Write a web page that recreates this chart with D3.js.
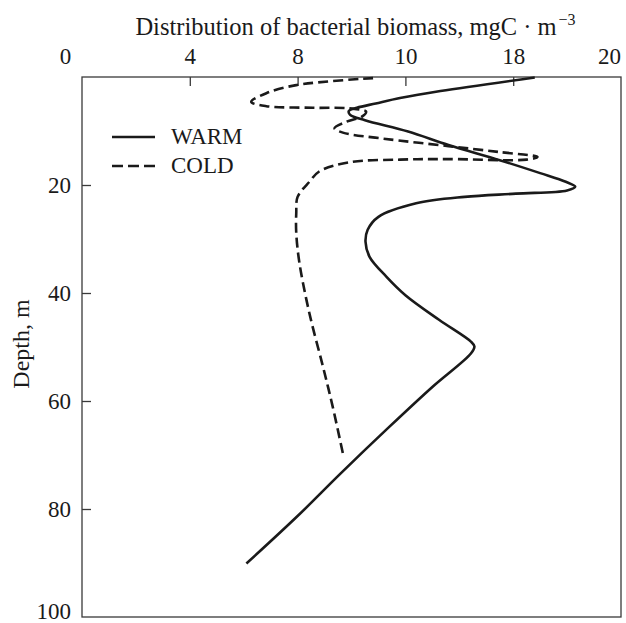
<!DOCTYPE html>
<html>
<head>
<meta charset="utf-8">
<script src="https://cdn.jsdelivr.net/npm/d3@7"></script>
<style>
  html, body { margin: 0; padding: 0; background: #fff; }
  svg { display: block; }
  text { font-family: "Liberation Serif", "Times New Roman", serif; fill: #1a1a1a; }
</style>
</head>
<body>
<svg id="chart" width="626" height="623"></svg>
<script>
// ---- data ----
const seriesNames = ["WARM", "COLD"];
const xTickValues = [0, 4, 8, 12, 16, 20];
const xTickLabels = ["0", "4", "8", "10", "18", "20"];
const yTickValues = [20, 40, 60, 80, 100];
const yTickLabels = ["20", "40", "60", "80", "100"];
const titleText = "Distribution of bacterial biomass, mgC · m";
const titleSup = "−3";
const yTitle = "Depth, m";

// [biomass, depth]
const warmBiomass = [16.8, 13.3, 11.8, 10.9, 10.2, 9.9, 9.95, 10.5, 12.1, 13.6, 15.5, 17.0, 17.95, 18.3, 18.0, 16.1, 14.2, 12.4, 11.0, 10.6, 10.52, 10.67, 11.3, 12.0, 13.26, 14.43, 14.56, 14.43, 13.0, 11.4, 9.6, 7.98, 6.1];
const warmDepth   = [0.1, 2.6, 3.9, 4.9, 5.7, 6.3, 7.0, 8.0, 10.1, 12.6, 15.4, 17.8, 19.4, 20.3, 21.0, 21.6, 22.2, 23.4, 25.9, 28.3, 30.5, 33.3, 37, 40.4, 45, 49, 49.9, 51.2, 57.4, 64.8, 73.4, 81.4, 90.1];
const coldBiomass = [10.8, 7.95, 6.84, 6.28, 6.84, 8.57, 9.9, 10.54, 10.4, 9.8, 9.37, 9.68, 11.16, 13.6, 15.5, 16.9, 16.5, 13.6, 11.8, 9.9, 8.8, 8.44, 8.0, 7.95, 7.95, 8.07, 8.44, 8.94, 9.3, 9.68];
const coldDepth   = [0.2, 1.5, 3.0, 4.6, 5.4, 5.7, 5.8, 6.4, 7.3, 8.3, 9.5, 10.3, 11.4, 12.8, 13.9, 14.8, 15.3, 15.2, 15.3, 15.8, 17.5, 19.4, 22.2, 25.2, 28.9, 34.5, 43.8, 53.6, 61, 69.7];

// ---- layout ----
const svg = d3.select("#chart");
const mLeft = 82, mRight = 621, mTop = 77, mBottom = 617;
const x = d3.scaleLinear().domain([0, 20]).range([mLeft, mRight]);
const y = d3.scaleLinear().domain([0, 100]).range([mTop, mBottom]);
const ink = "#1a1a1a";
const axisInk = "#3a3a3a";

// frame
svg.append("rect")
  .attr("x", mLeft).attr("y", mTop)
  .attr("width", mRight - mLeft).attr("height", mBottom - mTop)
  .attr("fill", "none").attr("stroke", axisInk).attr("stroke-width", 1.3);

// x axis (top)
const xAxis = d3.axisTop(x)
  .tickValues(xTickValues)
  .tickSize(-9).tickSizeOuter(0).tickPadding(13)
  .tickFormat((d, i) => xTickLabels[i]);
const gx = svg.append("g").attr("transform", `translate(0,${mTop})`).call(xAxis);
gx.select(".domain").remove();
gx.selectAll(".tick line").attr("stroke", axisInk).attr("stroke-width", 1.3);
gx.selectAll(".tick text")
  .attr("font-size", 23).attr("fill", ink)
  .attr("font-family", "Liberation Serif, serif")
  .attr("dx", (d, i) => i === 0 ? -17 : (i === xTickValues.length - 1 ? -12 : 0));
gx.selectAll(".tick").filter(d => d === 0 || d === 20).select("line").remove();

// y axis (left)
const yAxis = d3.axisLeft(y)
  .tickValues(yTickValues)
  .tickSize(-9).tickSizeOuter(0).tickPadding(11)
  .tickFormat((d, i) => yTickLabels[i]);
const gy = svg.append("g").attr("transform", `translate(${mLeft},0)`).call(yAxis);
gy.select(".domain").remove();
gy.selectAll(".tick line").attr("stroke", axisInk).attr("stroke-width", 1.3);
gy.selectAll(".tick text")
  .attr("font-size", 23).attr("fill", ink)
  .attr("font-family", "Liberation Serif, serif")
  .attr("dy", d => d === 100 ? "0.05em" : "0.32em");
gy.selectAll(".tick").filter(d => d === 100).select("line").remove();

// titles
const t = svg.append("text")
  .attr("x", (mLeft + mRight) / 2 + 4).attr("y", 35)
  .attr("text-anchor", "middle").attr("font-size", 24.5);
t.append("tspan").text(titleText);
t.append("tspan").text(titleSup).attr("font-size", 16).attr("dy", -10).attr("dx", 2);

svg.append("text")
  .attr("transform", `translate(29,${(mTop + mBottom) / 2 - 3}) rotate(-90)`)
  .attr("text-anchor", "middle").attr("font-size", 24)
  .text(yTitle);

// curves
const line = d3.line()
  .x(d => x(d[0])).y(d => y(d[1]))
  .curve(d3.curveCatmullRom.alpha(0.5));
const warm = d3.zip(warmBiomass, warmDepth);
const cold = d3.zip(coldBiomass, coldDepth);

svg.append("path").datum(warm)
  .attr("d", line).attr("fill", "none")
  .attr("stroke", ink).attr("stroke-width", 2.6);
svg.append("path").datum(cold)
  .attr("d", line).attr("fill", "none")
  .attr("stroke", ink).attr("stroke-width", 2.6)
  .attr("stroke-dasharray", "10,5");

// legend
const leg = svg.append("g");
const legendRows = [{ name: seriesNames[0], dash: null, yy: 137 }, { name: seriesNames[1], dash: "11,5", yy: 166 }];
legendRows.forEach(r => {
  leg.append("line")
    .attr("x1", 112).attr("x2", 155).attr("y1", r.yy).attr("y2", r.yy)
    .attr("stroke", ink).attr("stroke-width", 2.6)
    .attr("stroke-dasharray", r.dash);
  leg.append("text")
    .attr("x", 171).attr("y", r.yy + 7)
    .attr("font-size", 23)
    .text(r.name);
});
</script>
</body>
</html>
